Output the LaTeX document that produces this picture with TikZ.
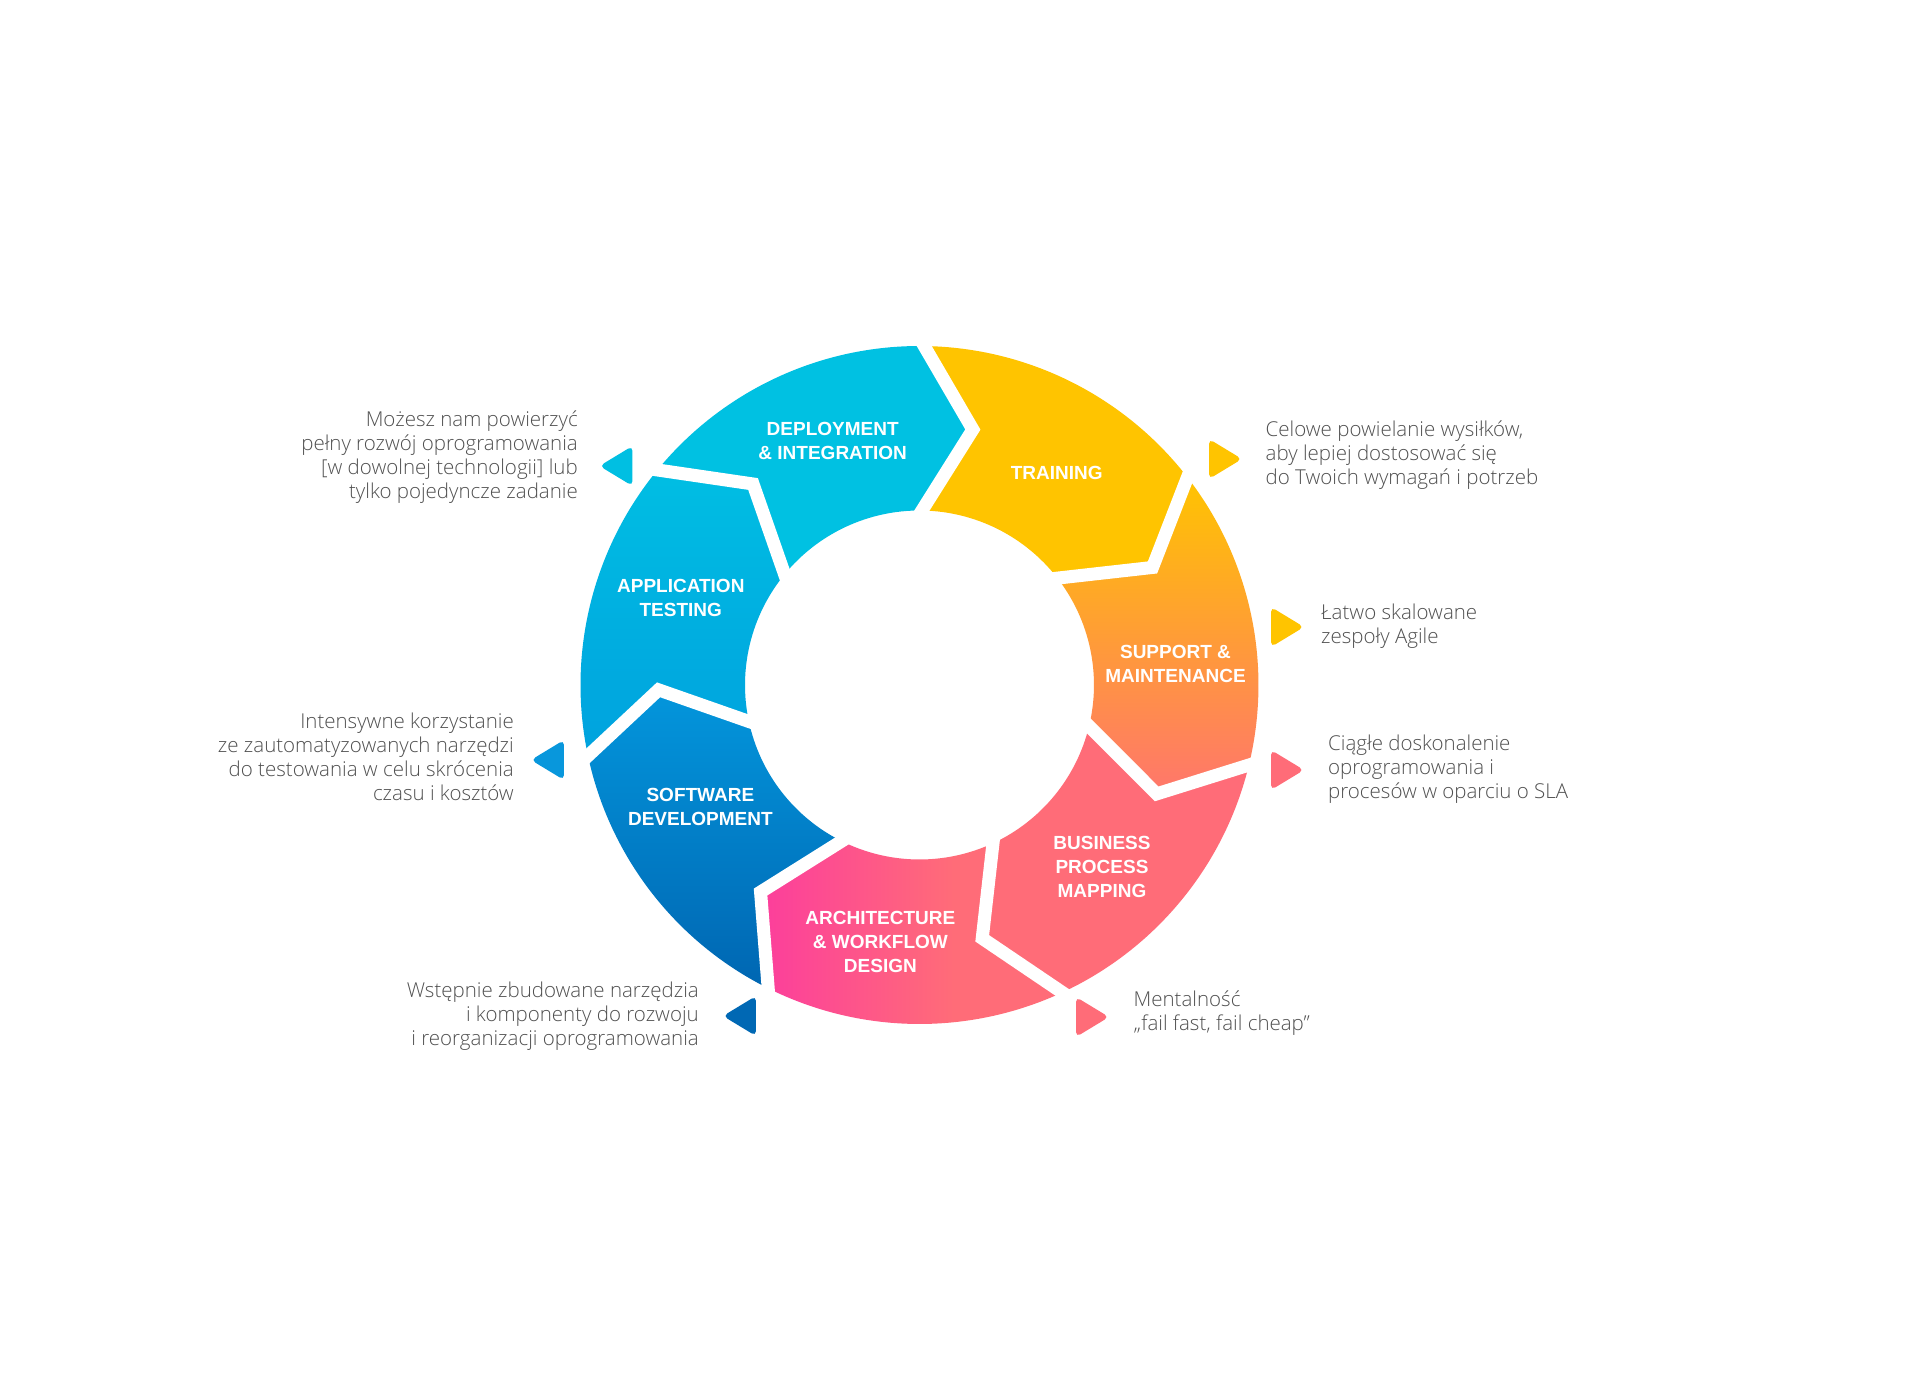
\documentclass[tikz,border=0pt]{standalone}
\usepackage{fontspec}
\setmainfont{Liberation Sans}
\IfFontExistsTF{Open Sans Light}{\newfontfamily\lightfont{Open Sans Light}}{\IfFontExistsTF{Fira Sans Light}{\newfontfamily\lightfont{Fira Sans Light}}{\newfontfamily\lightfont{Liberation Sans}}}
\definecolor{cyanD}{RGB}{0,193,226}
\definecolor{yellowT}{RGB}{255,196,0}
\definecolor{suppBot}{RGB}{255,118,108}
\definecolor{coralB}{RGB}{255,108,120}
\definecolor{pinkA}{RGB}{252,62,156}
\definecolor{blueTop}{RGB}{3,150,220}
\definecolor{blueBot}{RGB}{0,102,178}
\definecolor{appTop}{RGB}{0,190,227}
\definecolor{appBot}{RGB}{0,162,222}
\definecolor{triCyan}{RGB}{0,191,226}
\definecolor{triBlue}{RGB}{8,151,220}
\definecolor{triDark}{RGB}{0,104,180}
\definecolor{notegray}{RGB}{80,80,80}
\pgfdeclarehorizontalshading{archshade}{100bp}{color(0bp)=(pinkA); color(25bp)=(pinkA); color(57bp)=(coralB); color(100bp)=(coralB)}
\tikzset{
  seglabel/.style={text=white, font=\fontsize{19}{24}\selectfont\bfseries, align=center, inner sep=0pt},
  note/.style={text=notegray, font=\lightfont\fontsize{20.5}{24}\selectfont, inner sep=0pt},
  gapline/.style={draw=white, line width=13pt, line join=miter, line cap=rect},
}
\newcommand\marktri[4]{\begin{scope}[shift={(#1,#2)},xscale=#3]\fill[#4,rounded corners=5pt] (-14,-20) -- (19,0) -- (-14,20) -- cycle;\end{scope}}
\begin{document}
\begin{tikzpicture}[x=1pt,y=1pt]
\useasboundingbox (-919.5,-709) rectangle (1000.5,685);
\fill[white] (-919.5,-709) rectangle (1000.5,685);
% segments
% Training
\fill[yellowT] (89.2:339) arc[start angle=89.2, end angle=37.77, radius=339] -- (26.77:261) -- (37.77:174.5) arc[start angle=37.77, end angle=89.2, radius=174.5] -- (78.2:261) -- cycle;
% Support
\shade[top color=yellowT, bottom color=suppBot] (37.77:339) arc[start angle=37.77, end angle=-13.66, radius=339] -- (-24.66:261) -- (-13.66:174.5) arc[start angle=-13.66, end angle=37.77, radius=174.5] -- (26.77:261) -- cycle;
% Business
\fill[coralB] (-13.66:339) arc[start angle=-13.66, end angle=-65.09, radius=339] -- (-76.09:261) -- (-65.09:174.5) arc[start angle=-65.09, end angle=-13.66, radius=174.5] -- (-24.66:261) -- cycle;
% Architecture
\shade[shading=archshade] (-65.09:339) arc[start angle=-65.09, end angle=-116.51, radius=339] -- (-127.51:261) -- (-116.51:174.5) arc[start angle=-116.51, end angle=-65.09, radius=174.5] -- (-76.09:261) -- cycle;
% Software
\shade[top color=blueTop, bottom color=blueBot] (-116.51:339) arc[start angle=-116.51, end angle=-167.94, radius=339] -- (-178.94:261) -- (-167.94:174.5) arc[start angle=-167.94, end angle=-116.51, radius=174.5] -- (-127.51:261) -- cycle;
% Application
\shade[top color=appTop, bottom color=appBot] (-167.94:339) arc[start angle=-167.94, end angle=-219.37, radius=339] -- (-230.37:261) -- (-219.37:174.5) arc[start angle=-219.37, end angle=-167.94, radius=174.5] -- (-178.94:261) -- cycle;
% Deployment
\fill[cyanD] (140.63:339) arc[start angle=140.63, end angle=89.2, radius=339] -- (78.2:261) -- (89.2:174.5) arc[start angle=89.2, end angle=140.63, radius=174.5] -- (129.63:261) -- cycle;
% gaps
\path[gapline] (89.2:339) -- (78.2:261) -- (89.2:174.5);
\path[gapline] (37.77:339) -- (26.77:261) -- (37.77:174.5);
\path[gapline] (-13.66:339) -- (-24.66:261) -- (-13.66:174.5);
\path[gapline] (-65.09:339) -- (-76.09:261) -- (-65.09:174.5);
\path[gapline] (-116.51:339) -- (-127.51:261) -- (-116.51:174.5);
\path[gapline] (-167.94:339) -- (-178.94:261) -- (-167.94:174.5);
\path[gapline] (140.63:339) -- (129.63:261) -- (140.63:174.5);
% segment labels
\node[seglabel] (lDep) at (-86.8,244) {DEPLOYMENT\\\& INTEGRATION};
\node[seglabel] (lTrain) at (137.3,212.3) {TRAINING};
\node[seglabel] (lSupp) at (256,21.3) {SUPPORT \&\\MAINTENANCE};
\node[seglabel] (lBus) at (182.5,-182) {BUSINESS\\PROCESS\\MAPPING};
\node[seglabel] (lArch) at (-39.1,-256.6) {ARCHITECTURE\\\& WORKFLOW\\DESIGN};
\node[seglabel] (lSoft) at (-219.1,-122) {SOFTWARE\\DEVELOPMENT};
\node[seglabel] (lApp) at (-238.7,87.4) {APPLICATION\\TESTING};
% notes
\node[note, anchor=east, align=right] (nA) at (-341.5,228) {Możesz nam powierzyć\\pełny rozwój oprogramowania\\{[}w dowolnej technologii{]} lub\\tylko pojedyncze zadanie};
\node[note, anchor=east, align=right] (nB) at (-405.5,-72) {Intensywne korzystanie\\ze zautomatyzowanych narzędzi\\do testowania w celu skrócenia\\czasu i kosztów};
\node[note, anchor=east, align=right] (nC) at (-220.5,-331) {Wstępnie zbudowane narzędzia\\i komponenty do rozwoju\\i reorganizacji oprogramowania};
\node[note, anchor=west, align=left] (nD) at (346,229.5) {Celowe powielanie wysiłków,\\aby lepiej dostosować się\\do Twoich wymagań i potrzeb};
\node[note, anchor=west, align=left] (nE) at (401.5,59) {Łatwo skalowane\\zespoły Agile};
\node[note, anchor=west, align=left] (nF) at (408.5,-84) {Ciągłe doskonalenie\\oprogramowania i\\procesów w oparciu o SLA};
\node[note, anchor=west, align=left] (nG) at (214,-327.7) {Mentalność\\„fail fast, fail cheap”};
% markers
\marktri{303.5}{226}{1}{yellowT}
\marktri{365.5}{58}{1}{yellowT}
\marktri{365.5}{-85}{1}{coralB}
\marktri{170.5}{-332}{1}{coralB}
\marktri{-177.5}{-331}{-1}{triDark}
\marktri{-369.5}{-75}{-1}{triBlue}
\marktri{-301}{219}{-1}{triCyan}
\end{tikzpicture}
\end{document}
